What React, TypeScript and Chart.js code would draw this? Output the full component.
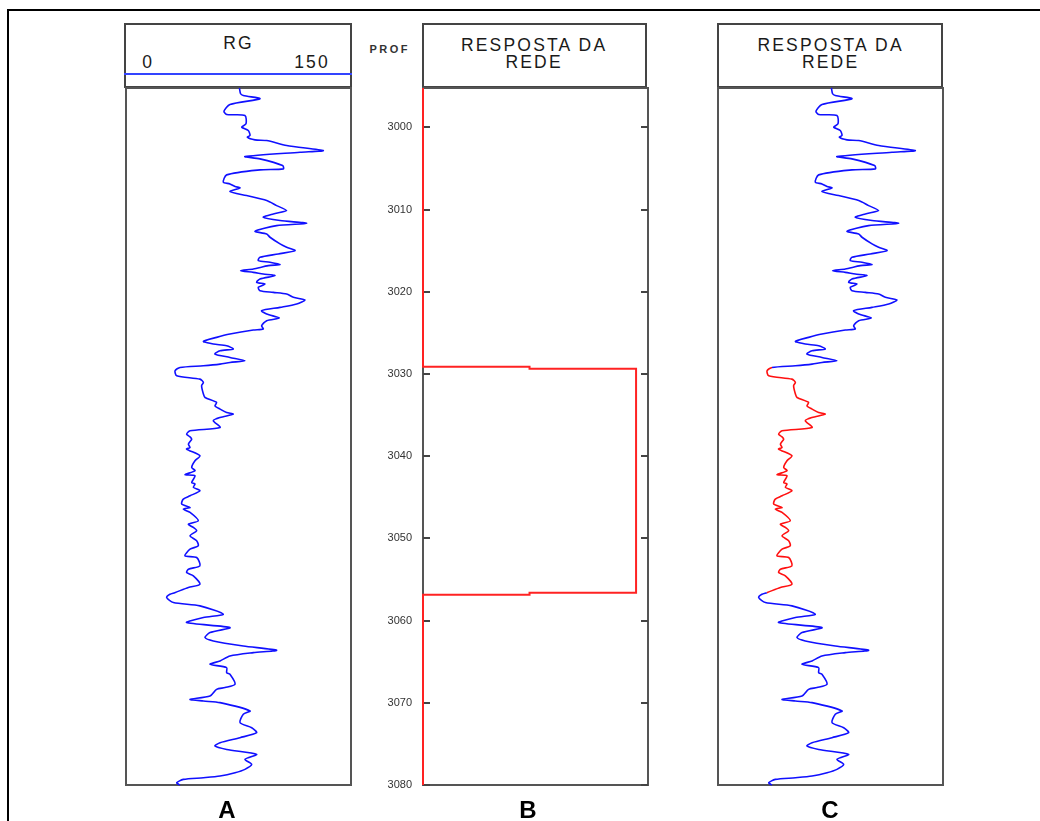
import React, { useEffect, useRef } from "react";
import { Chart, registerables } from "chart.js";

Chart.register(...registerables);

// Gamma ray (RG) curve read from track A (value 0-150, depth in m)
const RG_VALUES = [
  75.6, 76.4, 78.2, 89.3, 69.3, 65.3, 67.1, 79.3, 80.0, 77.1,
  81.5, 82.7, 80.9, 86.0, 93.8, 107.1, 131.5, 116.0, 79.3, 89.3,
  104.4, 104.9, 89.3, 67.1, 64.9, 69.3, 72.7, 76.0, 69.3, 80.4,
  93.8, 100.4, 107.1, 98.2, 91.5, 102.7, 120.4, 100.4, 86.0, 93.8,
  96.0, 102.7, 107.1, 112.7, 101.5, 89.3, 88.2, 96.0, 102.7, 94.9,
  84.9, 76.4, 84.9, 91.5, 99.3, 89.3, 87.1, 92.7, 88.2, 89.3,
  98.2, 107.1, 111.6, 119.3, 113.8, 102.7, 90.4, 93.8, 102.2, 93.8,
  90.4, 91.5, 84.9, 69.3, 60.4, 51.6, 58.2, 67.1, 71.5, 62.7,
  59.3, 69.3, 79.3, 69.3, 62.7, 51.6, 36.0, 32.7, 33.8, 49.3,
  51.6, 50.4, 51.6, 52.7, 60.4, 59.3, 62.7, 67.1, 71.5, 62.7,
  58.2, 62.7, 42.7, 40.4, 42.7, 43.8, 41.6, 42.7, 40.4, 49.3,
  46.0, 43.8, 46.0, 39.3, 46.0, 43.8, 46.0, 44.9, 49.3, 42.7,
  38.2, 37.1, 42.7, 38.2, 42.7, 48.2, 41.6, 44.9, 47.1, 42.7,
  47.1, 48.2, 42.7, 39.3, 47.1, 49.3, 41.6, 40.4, 44.9, 49.3,
  41.6, 32.5, 29.3, 27.1, 31.6, 49.3, 64.9, 51.6, 40.4, 69.3,
  56.0, 52.7, 58.2, 78.2, 100.4, 84.9, 69.3, 62.7, 56.0, 67.1,
  67.1, 69.3, 72.7, 66.0, 60.4, 56.0, 42.7, 51.6, 62.7, 82.7,
  78.2, 76.0, 83.8, 87.1, 76.0, 62.7, 59.3, 67.1, 87.1, 79.3,
  83.8, 79.3, 72.7, 62.7, 51.6, 38.2, 33.8, 36.0,
];
const RG_DEPTHS = [
  2995.2, 2995.9, 2996.11, 2996.51, 2997.2, 2998.02, 2998.42, 2998.54, 2999.56, 2999.96,
  3000.37, 3000.98, 3001.18, 3001.51, 3001.59, 3002.2, 3002.81, 3003.01, 3003.54, 3003.82,
  3004.63, 3005.04, 3005.16, 3005.77, 3006.66, 3006.87, 3007.19, 3007.35, 3007.8, 3008.29,
  3008.9, 3009.51, 3010.11, 3010.52, 3010.93, 3011.33, 3011.66, 3011.94, 3012.63, 3012.96,
  3013.36, 3014.17, 3014.58, 3014.99, 3015.39, 3015.8, 3016.2, 3016.41, 3016.69, 3016.81,
  3017.22, 3017.42, 3017.63, 3017.83, 3018.03, 3018.44, 3018.84, 3019.05, 3019.45, 3019.86,
  3020.06, 3020.26, 3020.67, 3020.99, 3021.48, 3021.89, 3022.29, 3022.7, 3023.19, 3023.51,
  3024.12, 3024.53, 3024.65, 3025.14, 3025.54, 3026.03, 3026.35, 3026.56, 3026.96, 3027.17,
  3027.57, 3027.98, 3028.38, 3028.59, 3028.79, 3028.99, 3029.2, 3029.6, 3030.21, 3030.62,
  3031.02, 3031.43, 3032.44, 3032.85, 3033.46, 3033.87, 3034.27, 3034.68, 3034.88, 3035.29,
  3035.69, 3036.5, 3036.91, 3037.32, 3037.64, 3037.93, 3038.53, 3038.94, 3039.13, 3039.94,
  3040.55, 3041.36, 3041.76, 3042.25, 3042.37, 3043.19, 3043.39, 3043.79, 3044.2, 3044.81,
  3045.22, 3045.82, 3046.23, 3046.43, 3046.84, 3047.85, 3048.26, 3048.67, 3049.07, 3049.68,
  3050.29, 3050.9, 3051.31, 3052.12, 3052.32, 3053.34, 3053.74, 3054.15, 3054.55, 3055.57,
  3055.97, 3056.6, 3056.79, 3057.19, 3057.8, 3058.21, 3059.22, 3059.63, 3060.24, 3060.85,
  3061.46, 3062.06, 3062.47, 3063.08, 3063.61, 3063.89, 3064.3, 3064.91, 3065.31, 3065.72,
  3066.33, 3066.53, 3067.75, 3068.15, 3068.36, 3069.17, 3069.58, 3069.78, 3069.98, 3070.99,
  3071.4, 3072.42, 3073.03, 3073.64, 3074.24, 3074.85, 3075.26, 3075.67, 3076.27, 3076.88,
  3077.49, 3078.1, 3078.51, 3078.91, 3079.12, 3079.32, 3079.73, 3080.0,
];

// Network response (track B): step curve
const NET_VALUES = [0, 0, 0.5, 0.5, 1, 1, 0.5, 0.5, 0, 0];
const NET_DEPTHS = [2995.2, 3029.1, 3029.1, 3029.35, 3029.35, 3056.62, 3056.62, 3056.86, 3056.86, 3080];

const DEPTH_TICKS = [3000, 3010, 3020, 3030, 3040, 3050, 3060, 3070, 3080];
const DEPTH_MIN = 2995.2;
const DEPTH_MAX = 3080;
const RG_MIN = 0;
const RG_MAX = 150;
const NET_MIN = 0;
const NET_MAX = 1.056;
const ZONE_TOP = 3029.15;
const ZONE_BOTTOM = 3056.65;

const W = 1040;
const H = 821;
const FONT = "'Liberation Sans', Arial, sans-serif";

const framePlugin = {
  id: "frame",
  beforeDatasetsDraw(chart: any, _args: any, opts: any) {
    const { ctx, chartArea: a } = chart;
    ctx.save();
    ctx.strokeStyle = "#555";
    ctx.lineWidth = 2;
    ctx.strokeRect(a.left, a.top, a.right - a.left, a.bottom - a.top);
    if (opts && opts.ticks) {
      const ys = chart.scales.y;
      ctx.strokeStyle = "#444";
      for (const t of ys.ticks) {
        const py = Math.round(ys.getPixelForValue(t.value));
        ctx.beginPath();
        ctx.moveTo(a.left, py);
        ctx.lineTo(a.left + 7, py);
        ctx.moveTo(a.right - 7, py);
        ctx.lineTo(a.right, py);
        ctx.stroke();
      }
    }
    ctx.restore();
  },
};

type Kind = "A" | "B" | "C";

function buildConfig(kind: Kind): any {
  const isNet = kind === "B";
  const yScale: any = {
    type: "linear",
    min: DEPTH_MIN,
    max: DEPTH_MAX,
    reverse: true,
    display: isNet,
    grid: { display: false },
    border: { display: false },
    ticks: {
      padding: 3,
      color: "#333",
      font: { family: FONT, size: 11 },
      callback: (v: any) => String(v),
    },
    afterBuildTicks: (s: any) => {
      s.ticks = DEPTH_TICKS.map((v) => ({ value: v }));
    },
  };
  if (isNet) {
    yScale.afterFit = (s: any) => {
      s.width = 50;
    };
  }
  const xScale: any = {
    type: "linear",
    min: isNet ? NET_MIN : RG_MIN,
    max: isNet ? NET_MAX : RG_MAX,
    display: false,
  };
  let padding: any;
  if (kind === "A") padding = { left: 126, right: W - 351, top: 88, bottom: H - 785 };
  else if (kind === "B") padding = { left: 423 - 50, right: W - 648, top: 88, bottom: H - 785 };
  else padding = { left: 718, right: W - 943, top: 88, bottom: H - 785 };

  const data = isNet
    ? NET_VALUES.map((v, i) => ({ x: v, y: NET_DEPTHS[i] }))
    : RG_VALUES.map((v, i) => ({ x: v, y: RG_DEPTHS[i] }));

  const dataset: any = {
    data,
    borderColor: isNet ? "#ff2222" : "#1010ff",
    borderWidth: isNet ? 2 : 1.6,
    pointRadius: 0,
    tension: isNet ? 0 : 0.25,
    fill: false,
    clip: false,
  };
  if (kind === "C") {
    dataset.segment = {
      borderColor: (c: any) =>
        c.p0.parsed.y >= ZONE_TOP && c.p1.parsed.y <= ZONE_BOTTOM ? "#ff1010" : "#1010ff",
    };
  }

  return {
    type: "line",
    data: { datasets: [dataset] },
    options: {
      animation: false,
      responsive: false,
      events: [],
      layout: { padding },
      scales: { x: xScale, y: yScale },
      plugins: {
        legend: { display: false },
        tooltip: { enabled: false },
        frame: { ticks: isNet },
      },
    },
    plugins: [framePlugin],
  };
}

function Track({ kind }: { kind: Kind }) {
  const ref = useRef<HTMLCanvasElement | null>(null);
  useEffect(() => {
    if (!ref.current) return;
    const chart = new Chart(ref.current, buildConfig(kind));
    return () => chart.destroy();
  }, [kind]);
  return (
    <canvas
      ref={ref}
      width={W}
      height={H}
      style={{ position: "absolute", left: 0, top: 0, width: W, height: H }}
    />
  );
}

const LS = 2.2;
function Txt(props: { x: number; y: number; text: string; size?: number; bold?: boolean; ls?: number; color?: string }) {
  const ls = props.ls ?? LS;
  return (
    <span
      style={{
        position: "absolute",
        left: props.x,
        top: props.y,
        transform: "translate(-50%, -50%)",
        fontFamily: FONT,
        fontSize: props.size ?? 17.5,
        fontWeight: props.bold ? 700 : 400,
        letterSpacing: ls,
        paddingLeft: ls,
        lineHeight: 1,
        whiteSpace: "nowrap",
        color: props.color ?? "#1a1a1a",
      }}
    >
      {props.text}
    </span>
  );
}

function HeaderBox({ left, right }: { left: number; right: number }) {
  return (
    <div
      style={{
        position: "absolute",
        left,
        top: 23,
        width: right - left,
        height: 65,
        border: "2px solid #444",
        boxSizing: "border-box",
      }}
    />
  );
}

export default function App() {
  return (
    <div
      style={{
        position: "absolute",
        left: 0,
        top: 0,
        width: W,
        height: H,
        overflow: "hidden",
        background: "#fff",
      }}
    >
      <div
        style={{
          position: "absolute",
          left: 7,
          top: 9,
          width: 1100,
          height: 900,
          borderTop: "2.5px solid #000",
          borderLeft: "2.5px solid #000",
        }}
      />
      <HeaderBox left={124} right={352} />
      <HeaderBox left={422} right={647} />
      <HeaderBox left={717} right={943} />
      <div style={{ position: "absolute", left: 124, top: 73, width: 228, height: 2, background: "#3344ff" }} />
      <Txt x={237.5} y={44} text="RG" />
      <Txt x={147} y={63} text="0" />
      <Txt x={311} y={63} text="150" />
      <Txt x={533} y={46} text="RESPOSTA DA" />
      <Txt x={533} y={63} text="REDE" />
      <Txt x={829.5} y={46} text="RESPOSTA DA" />
      <Txt x={829.5} y={63} text="REDE" />
      <Txt x={388.5} y={49} text="PROF" size={11} bold ls={2.5} color="#333" />
      <Track kind="A" />
      <Track kind="B" />
      <Track kind="C" />
      <Txt x={227} y={810} text="A" size={24} bold ls={0} color="#000" />
      <Txt x={528} y={810} text="B" size={24} bold ls={0} color="#000" />
      <Txt x={830} y={810} text="C" size={24} bold ls={0} color="#000" />
    </div>
  );
}
